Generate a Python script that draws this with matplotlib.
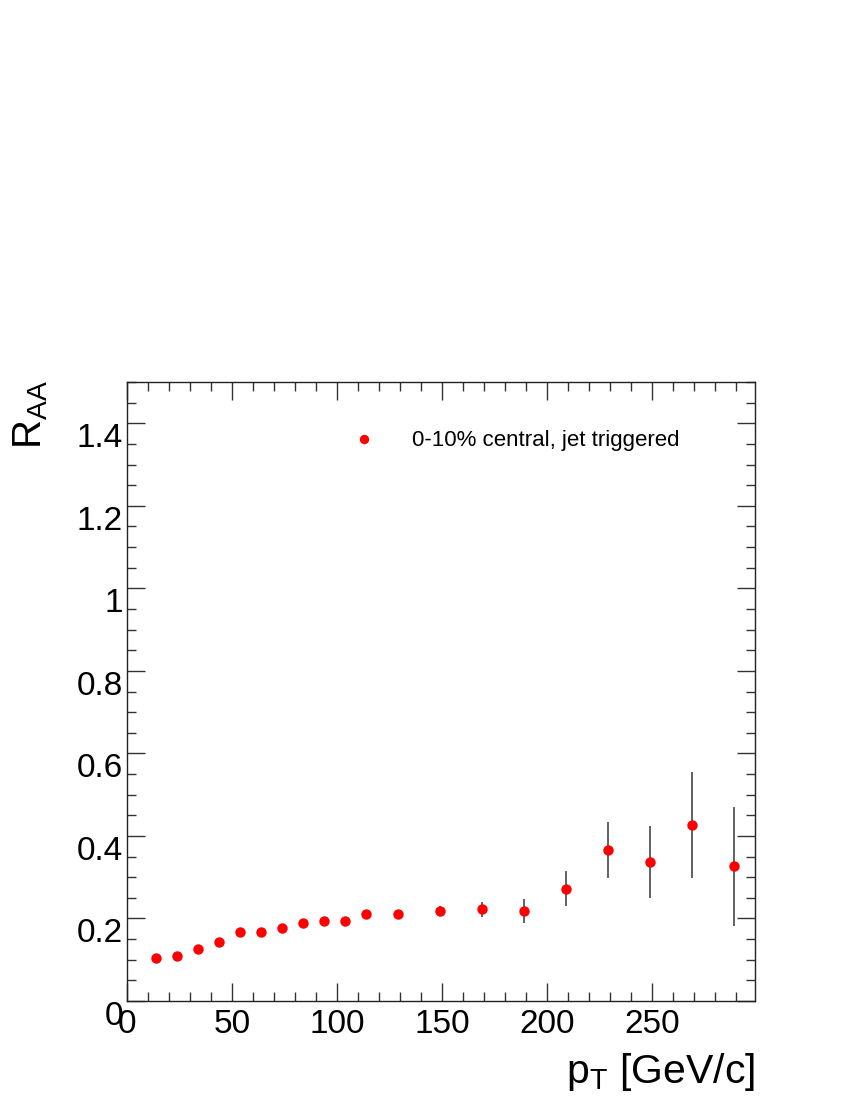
import matplotlib
matplotlib.use("Agg")
import matplotlib.pyplot as plt
from matplotlib.ticker import MultipleLocator, FuncFormatter

plt.rcParams['font.family'] = ['Liberation Sans', 'DejaVu Sans']
plt.rcParams['mathtext.fontset'] = 'custom'
plt.rcParams['mathtext.rm'] = 'Liberation Sans'
plt.rcParams['mathtext.it'] = 'Liberation Sans'

# R_AA vs pT, 0-10% central, jet triggered
pt = [14, 24, 34, 44, 54, 64, 74, 84, 94, 104, 114, 129,
      149, 169, 189, 209, 229, 249, 269, 289]
raa = [0.104, 0.108, 0.127, 0.144, 0.167, 0.167, 0.178, 0.189, 0.193, 0.193,
       0.211, 0.210, 0.219, 0.222, 0.218, 0.272, 0.366, 0.337, 0.427, 0.326]
raa_err = [0.002, 0.002, 0.002, 0.003, 0.003, 0.003, 0.003, 0.004, 0.004, 0.005,
           0.005, 0.006, 0.010, 0.019, 0.028, 0.043, 0.068, 0.087, 0.128, 0.145]

yticks = [0, 0.2, 0.4, 0.6, 0.8, 1.0, 1.2, 1.4]
xticks = [0, 50, 100, 150, 200, 250]

fig = plt.figure(figsize=(8.5, 11), dpi=100)
ax = fig.add_axes([127/850, 1 - 1001/1100, 628/850, 619/1100])

ax.errorbar(pt, raa, yerr=raa_err, fmt='none', ecolor='#555555', elinewidth=1.3, capsize=0, zorder=2)
ax.plot(pt, raa, 'o', color='#ff0000', markersize=7.5, markeredgewidth=0, zorder=3,
        label='0-10% central, jet triggered')

ax.set_xlim(0, 299)
ax.set_ylim(0, 1.5)

ax.set_xticks(xticks)
ax.set_yticks(yticks)
ax.xaxis.set_minor_locator(MultipleLocator(10))
ax.yaxis.set_minor_locator(MultipleLocator(0.05))
ax.yaxis.set_major_formatter(FuncFormatter(lambda v, p: '%g' % v))

ax.tick_params(which='both', direction='in', top=True, right=True, color='#333333', width=1)
ax.tick_params(which='major', length=13)
ax.tick_params(which='minor', length=6.5)
ax.tick_params(axis='y', which='major', labelsize=24, pad=3)
ax.tick_params(axis='x', which='major', labelsize=24, pad=6)
for lab in ax.get_yticklabels():
    lab.set_verticalalignment('top')

for s in ax.spines.values():
    s.set_linewidth(1)
    s.set_color('#222222')

ax.legend(loc='center left', bbox_to_anchor=(0.342, 0.905), frameon=False,
          fontsize=16, markerscale=0.9, handletextpad=1.16, borderpad=0, borderaxespad=0)

fig.text(0.014, 1 - 380/1100, r'$\mathregular{R_{AA}}$', rotation=90, fontsize=29,
         ha='left', va='top')
fig.text(755/850, 1 - 1083/1100, r'$\mathregular{p_{T}}$ [GeV/c]', fontsize=29.5,
         ha='right', va='baseline')

fig.savefig('out.png', dpi=100)
